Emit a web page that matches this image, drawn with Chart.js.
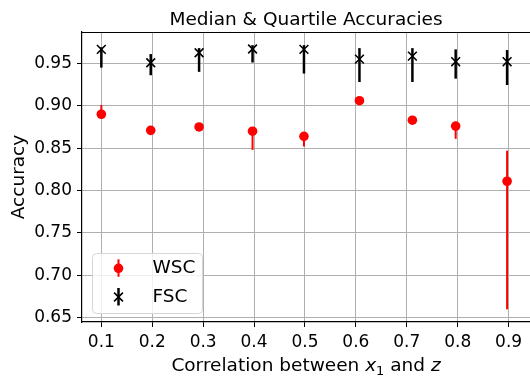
<!DOCTYPE html>
<html>
<head>
<meta charset="utf-8">
<script src="https://cdn.jsdelivr.net/npm/chart.js@4/dist/chart.umd.min.js"></script>
<style>
  html, body { margin: 0; padding: 0; background: #fff; overflow: hidden; }
  canvas { display: block; }
</style>
</head>
<body>
<canvas id="chart" width="530" height="377"></canvas>
<script>
// Correlation levels between x1 and z
const xValues = [0.1, 0.197, 0.292, 0.397, 0.498, 0.607, 0.711, 0.796, 0.897];

// WSC: median accuracy with first / third quartiles
const wscMedian = [0.890, 0.871, 0.875, 0.870, 0.864, 0.906, 0.883, 0.876, 0.811];
const wscLower  = [0.888, 0.870, 0.874, 0.848, 0.852, 0.905, 0.882, 0.861, 0.660];
const wscUpper  = [0.901, 0.872, 0.876, 0.875, 0.866, 0.907, 0.884, 0.878, 0.847];

// FSC: median accuracy with first / third quartiles
const fscMedian = [0.9665, 0.9507, 0.9625, 0.967, 0.9665, 0.955, 0.9586, 0.952, 0.952];
const fscLower  = [0.945, 0.936, 0.940, 0.951, 0.938, 0.928, 0.928, 0.932, 0.9245];
const fscUpper  = [0.969, 0.961, 0.968, 0.9715, 0.9715, 0.968, 0.968, 0.9665, 0.9657];

// Axis ticks
const xTicks = [0.1, 0.2, 0.3, 0.4, 0.5, 0.6, 0.7, 0.8, 0.9];
const xTickLabels = ['0.1', '0.2', '0.3', '0.4', '0.5', '0.6', '0.7', '0.8', '0.9'];
const yTicks = [0.65, 0.70, 0.75, 0.80, 0.85, 0.90, 0.95];
const yTickLabels = ['0.65', '0.70', '0.75', '0.80', '0.85', '0.90', '0.95'];

const FONT = '"DejaVu Sans", Verdana, sans-serif';
const TICK_SIZE = 17;
const LABEL_SIZE = 18.5;
const GRID = '#b0b0b0';
const NONE = 'rgba(0,0,0,0)';

function toPoints(xs, ys) {
  return xs.map((x, i) => ({ x: x, y: ys[i] }));
}

// grid lines and tick marks only at the listed tick values
function onlyAt(list, color) {
  return c => (c.tick && list.includes(c.tick.value)) ? color : NONE;
}

// Vertical quartile bars, title, axis titles, top spine and legend
const decorations = {
  id: 'decorations',
  beforeDatasetsDraw(chart) {
    const ctx = chart.ctx;
    const xs = chart.scales.x, ys = chart.scales.y;
    const bars = [
      { lo: wscLower, hi: wscUpper, color: '#ff0000', width: 2 },
      { lo: fscLower, hi: fscUpper, color: '#000000', width: 2.5 }
    ];
    ctx.save();
    bars.forEach(b => {
      ctx.strokeStyle = b.color;
      ctx.lineWidth = b.width;
      xValues.forEach((xv, i) => {
        const px = xs.getPixelForValue(xv);
        ctx.beginPath();
        ctx.moveTo(px, ys.getPixelForValue(b.lo[i]));
        ctx.lineTo(px, ys.getPixelForValue(b.hi[i]));
        ctx.stroke();
      });
    });
    ctx.restore();
  },
  afterDraw(chart) {
    const ctx = chart.ctx;
    const area = chart.chartArea;
    const cx = (area.left + chart.width) / 2;
    const cy = (area.top + area.bottom) / 2;
    ctx.save();

    // top spine
    ctx.strokeStyle = '#000';
    ctx.lineWidth = 1.2;
    ctx.beginPath();
    ctx.moveTo(area.left, area.top + 0.5);
    ctx.lineTo(chart.width, area.top + 0.5);
    ctx.stroke();

    ctx.fillStyle = '#000';

    // title
    ctx.font = LABEL_SIZE + 'px ' + FONT;
    ctx.textAlign = 'center';
    ctx.textBaseline = 'alphabetic';
    ctx.fillText('Median & Quartile Accuracies', cx, 25);

    // y-axis title
    ctx.save();
    ctx.translate(24, cy);
    ctx.rotate(-Math.PI / 2);
    ctx.textAlign = 'center';
    ctx.textBaseline = 'alphabetic';
    ctx.fillText('Accuracy', 0, 0);
    ctx.restore();

    // x-axis title with math-style x₁ and z
    const normal = LABEL_SIZE + 'px ' + FONT;
    const italic = 'italic ' + LABEL_SIZE + 'px ' + FONT;
    const sub = (LABEL_SIZE * 0.7) + 'px ' + FONT;
    const parts = [
      { t: 'Correlation between ', f: normal, dy: 0 },
      { t: 'x', f: italic, dy: 0 },
      { t: '1', f: sub, dy: LABEL_SIZE * 0.22 },
      { t: ' and ', f: normal, dy: 0 },
      { t: 'z', f: italic, dy: 0 }
    ];
    let total = 0;
    parts.forEach(p => { ctx.font = p.f; p.w = ctx.measureText(p.t).width; total += p.w; });
    let px = cx - total / 2;
    ctx.textAlign = 'left';
    parts.forEach(p => {
      ctx.font = p.f;
      ctx.fillText(p.t, px, 371 + p.dy);
      px += p.w;
    });

    // legend
    const lx = 92.5, ly = 253.5, lw = 110, lh = 60, r = 4;
    ctx.beginPath();
    ctx.moveTo(lx + r, ly);
    ctx.lineTo(lx + lw - r, ly);
    ctx.quadraticCurveTo(lx + lw, ly, lx + lw, ly + r);
    ctx.lineTo(lx + lw, ly + lh - r);
    ctx.quadraticCurveTo(lx + lw, ly + lh, lx + lw - r, ly + lh);
    ctx.lineTo(lx + r, ly + lh);
    ctx.quadraticCurveTo(lx, ly + lh, lx, ly + lh - r);
    ctx.lineTo(lx, ly + r);
    ctx.quadraticCurveTo(lx, ly, lx + r, ly);
    ctx.closePath();
    ctx.fillStyle = 'rgba(255,255,255,0.8)';
    ctx.fill();
    ctx.strokeStyle = '#d6d6d6';
    ctx.lineWidth = 1;
    ctx.stroke();

    const mx = 118.5;
    // WSC entry
    let my = 268.3;
    ctx.strokeStyle = '#ff0000';
    ctx.lineWidth = 2;
    ctx.beginPath(); ctx.moveTo(mx, my - 9); ctx.lineTo(mx, my + 8.5); ctx.stroke();
    ctx.fillStyle = '#ff0000';
    ctx.beginPath(); ctx.arc(mx, my, 4.8, 0, Math.PI * 2); ctx.fill();
    // FSC entry
    my = 297;
    ctx.strokeStyle = '#000';
    ctx.lineWidth = 2.5;
    ctx.beginPath(); ctx.moveTo(mx, my - 9); ctx.lineTo(mx, my + 8.5); ctx.stroke();
    ctx.lineWidth = 1.6;
    const d = 4.4;
    ctx.beginPath();
    ctx.moveTo(mx - d, my - d); ctx.lineTo(mx + d, my + d);
    ctx.moveTo(mx - d, my + d); ctx.lineTo(mx + d, my - d);
    ctx.stroke();

    ctx.fillStyle = '#000';
    ctx.font = LABEL_SIZE + 'px ' + FONT;
    ctx.textAlign = 'left';
    ctx.textBaseline = 'middle';
    ctx.fillText('WSC', 152.5, 268.5);
    ctx.fillText('FSC', 152.5, 297.5);

    ctx.restore();
  }
};

new Chart(document.getElementById('chart'), {
  type: 'scatter',
  data: {
    datasets: [
      {
        label: 'WSC',
        data: toPoints(xValues, wscMedian),
        pointStyle: 'circle',
        pointRadius: 4.8,
        pointBorderWidth: 0,
        backgroundColor: '#ff0000',
        borderColor: '#ff0000'
      },
      {
        label: 'FSC',
        data: toPoints(xValues, fscMedian),
        pointStyle: 'crossRot',
        pointRadius: 6.2,
        pointBorderWidth: 1.6,
        backgroundColor: '#000',
        borderColor: '#000'
      }
    ]
  },
  options: {
    responsive: false,
    animation: false,
    devicePixelRatio: 1,
    // the plot runs on past the right edge, so its right side stays open
    layout: { autoPadding: false, padding: { top: 32, left: 0, right: -3, bottom: 0 } },
    plugins: {
      legend: { display: false },
      title: { display: false },
      tooltip: { enabled: false }
    },
    scales: {
      x: {
        type: 'linear',
        min: 0.062,
        max: 0.942,
        afterFit: s => { s.height = 55; },
        afterBuildTicks: s => { s.ticks = xTicks.map(v => ({ value: v })); },
        ticks: {
          callback: (v, i) => xTickLabels[i],
          font: { family: FONT, size: TICK_SIZE },
          color: '#000',
          padding: 5,
          maxRotation: 0,
          autoSkip: false
        },
        grid: {
          color: onlyAt(xTicks, GRID),
          tickColor: onlyAt(xTicks, '#000'),
          lineWidth: 1,
          tickLength: 5,
          drawTicks: true
        },
        border: { color: '#000', width: 1.2 }
      },
      y: {
        type: 'linear',
        min: 0.645,
        max: 0.987,
        afterFit: s => { s.width = 82; },
        afterBuildTicks: s => { s.ticks = yTicks.map(v => ({ value: v })); },
        ticks: {
          callback: (v, i) => yTickLabels[i],
          font: { family: FONT, size: TICK_SIZE },
          color: '#000',
          padding: 5,
          autoSkip: false
        },
        grid: {
          color: onlyAt(yTicks, GRID),
          tickColor: onlyAt(yTicks, '#000'),
          lineWidth: 1,
          tickLength: 5,
          drawTicks: true
        },
        border: { color: '#000', width: 1.2 }
      }
    }
  },
  plugins: [decorations]
});
</script>
</body>
</html>
